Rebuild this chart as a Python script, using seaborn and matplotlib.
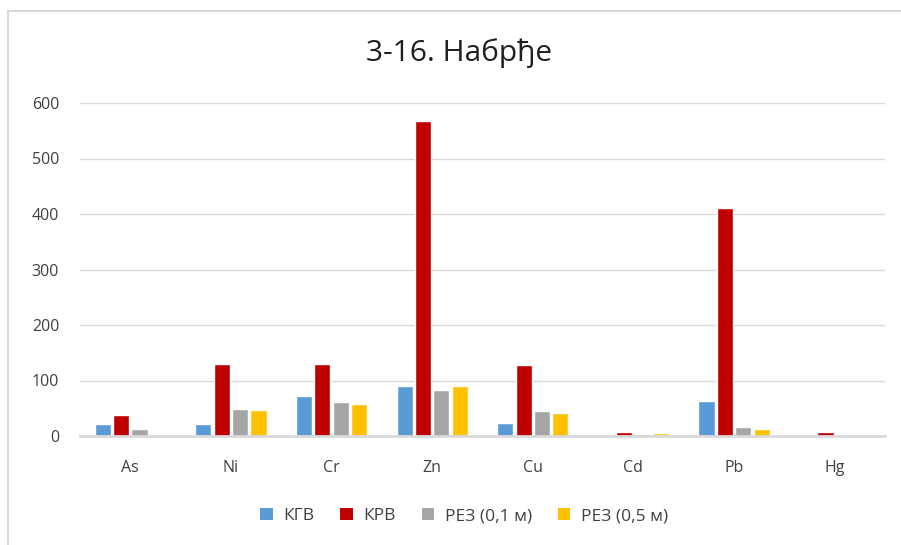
import matplotlib
matplotlib.use("Agg")
import matplotlib.pyplot as plt
import seaborn as sns
import pandas as pd
from matplotlib.lines import Line2D
from matplotlib.patches import Patch

categories = ["As", "Ni", "Cr", "Zn", "Cu", "Cd", "Pb", "Hg"]
series_names = ["КГВ", "КРВ", "РЕЗ (0,1 м)", "РЕЗ (0,5 м)"]
kgv = [22, 22, 72, 90, 23, 0, 63, 0]
krv = [38, 130, 130, 568, 128, 7, 411, 7]
rez01 = [13, 49, 61, 83, 45, 4, 16, 0]
rez05 = [0, 47, 58, 90, 41, 5, 12, 0]
colors = ["#5B9BD5", "#C00000", "#A5A5A5", "#FFC000"]
title = "3-16. Набрђе"
yticks = [0, 100, 200, 300, 400, 500, 600]

rows = []
for name, vals in zip(series_names, [kgv, krv, rez01, rez05]):
    for c, v in zip(categories, vals):
        rows.append({"cat": c, "series": name, "value": v})
df = pd.DataFrame(rows)

sns.set_theme(style="white")
plt.rcParams["font.family"] = ["Open Sans", "DejaVu Sans"]

fig = plt.figure(figsize=(9.01, 5.45), dpi=100)
ax = fig.add_axes([80 / 901, 1 - 436 / 545, 805 / 901, 333 / 545])

sns.barplot(data=df, x="cat", y="value", hue="series", order=categories,
            hue_order=series_names, palette=colors, width=0.73, gap=0.12,
            saturation=1, ax=ax, legend=False)

ax.set_ylim(0, 600)
ax.set_xlim(-0.5, len(categories) - 0.5)
ax.set_yticks(yticks)
ax.set_yticklabels([str(t) for t in yticks])
ax.yaxis.grid(True, color="#D9D9D9", linewidth=1)
ax.set_axisbelow(True)
for s in ["top", "right", "left"]:
    ax.spines[s].set_visible(False)
ax.spines["bottom"].set_color("#D9D9D9")
ax.spines["bottom"].set_linewidth(2)
ax.tick_params(axis="y", length=0, pad=15, labelsize=11.5, labelcolor="#404040")
ax.tick_params(axis="x", length=0, pad=17, labelsize=11.5, labelcolor="#404040")
ax.set_xlabel("")
ax.set_ylabel("")

fig.text(459 / 901, 1 - 53 / 545, title, ha="center", va="center",
         fontsize=21.5, color="#202020")

handles = [Patch(facecolor=c, edgecolor="none") for c in colors]
fig.legend(handles, series_names, loc="center", bbox_to_anchor=(464 / 901, 1 - 516 / 545),
           ncol=4, frameon=False, fontsize=12.5, handlelength=0.72, handleheight=0.72,
           handletextpad=0.6, columnspacing=1.5, labelcolor="#404040")

# chart border
fig.add_artist(Line2D([8 / 901, 1.0], [1 - 10.5 / 545, 1 - 10.5 / 545],
                      transform=fig.transFigure, color="#D9D9D9", linewidth=1.5))
fig.add_artist(Line2D([8 / 901, 8 / 901], [0, 1 - 10.5 / 545],
                      transform=fig.transFigure, color="#D9D9D9", linewidth=1.5))

fig.savefig("out.png", dpi=100)
